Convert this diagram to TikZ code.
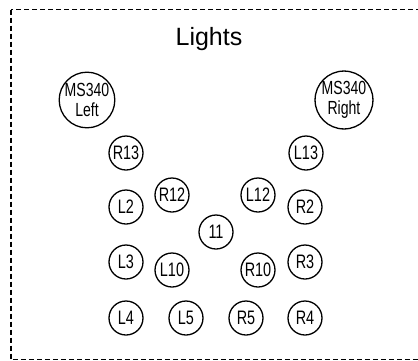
\documentclass[tikz,border=0pt]{standalone}
\usepackage{fontspec}
\setmainfont{Liberation Sans}
\newfontfamily\narrowfont[FakeStretch=0.74]{Liberation Sans}

\begin{document}
\begin{tikzpicture}
[ x=1pt, y=-1pt, line width=1.3pt
, light/.style={circle, draw, minimum size=34pt, inner sep=0pt, font=\narrowfont\fontsize{19.5}{19.5}\selectfont}
, biglight/.style={light, minimum size=52pt, align=center, font=\narrowfont\fontsize{19}{20}\selectfont}
, frame/.style={draw, line width=1.2pt, dash pattern=on 5pt off 3pt}
, title/.style={font=\fontsize{25}{30}\selectfont}
]
\useasboundingbox (0,0) rectangle (418,360);
\clip (0,0) rectangle (418,360);
\path[frame] (11,9.5) rectangle (430,359.6);
\node (title) [title, anchor=base] at (209,45) {Lights};
% MS340 fixtures
\node (msleft) [biglight] at (87,100) {MS340\\Left};
\node (msright) [biglight] at (344,100) {MS340\\Right};
% Outer columns
\node (r13) [light] at (126,153) {R13};
\node (l13) [light] at (306,153) {L13};
\node (l2) [light] at (126,207) {L2};
\node (r2) [light] at (305,207) {R2};
\node (l3) [light] at (126,262) {L3};
\node (r3) [light] at (305,262) {R3};
\node (l4) [light] at (126,318) {L4};
\node (r4) [light] at (305,318) {R4};
% Inner ring
\node (r12) [light] at (172,195) {R12};
\node (l12) [light] at (258,195) {L12};
\node (c11) [light] at (216,232) {11};
\node (l10) [light] at (172,270) {L10};
\node (r10) [light] at (258,270) {R10};
\node (l5) [light] at (186,318) {L5};
\node (r5) [light] at (246,318) {R5};
\end{tikzpicture}
\end{document}
